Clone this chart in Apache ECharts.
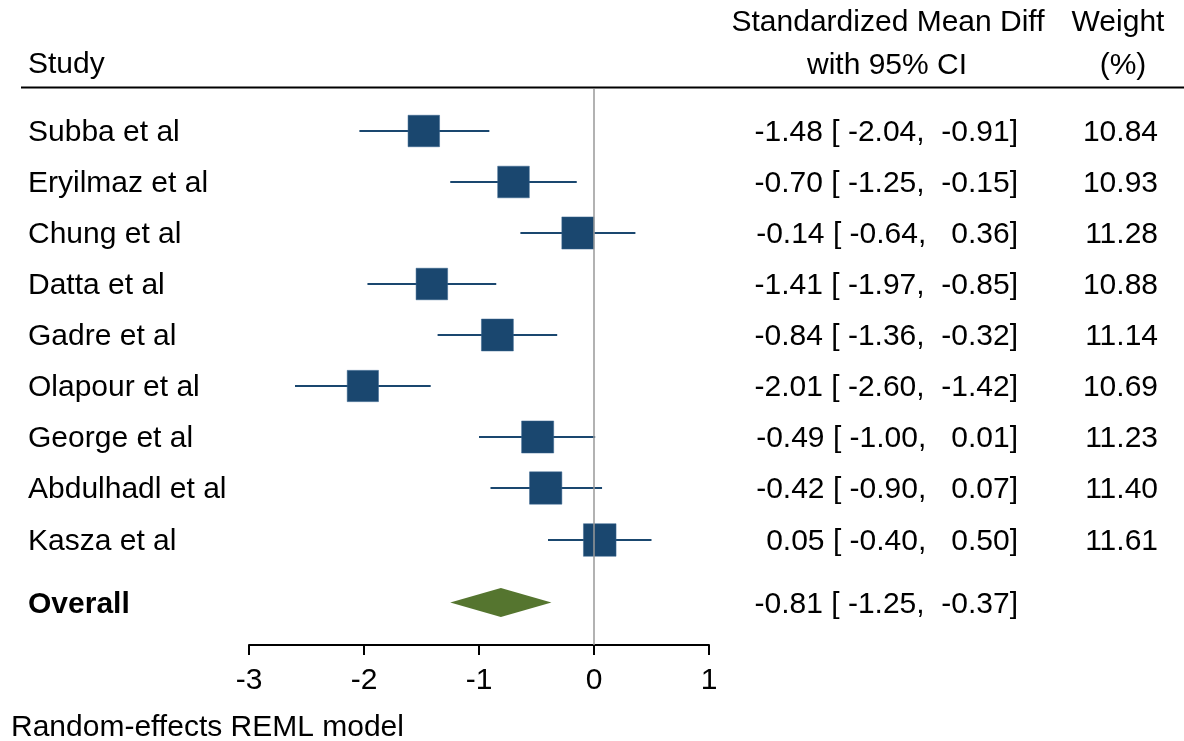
<!DOCTYPE html>
<html>
<head>
<meta charset="utf-8">
<script src="https://cdn.jsdelivr.net/npm/echarts@6/dist/echarts.min.js"></script>
<style>
  html, body { margin: 0; padding: 0; background: #fff; }
  #forest { width: 1184px; height: 741px; }
</style>
</head>
<body>
<div id="forest"></div>
<script>
// ---- data ----
var studies = ['Subba et al', 'Eryilmaz et al', 'Chung et al', 'Datta et al', 'Gadre et al',
    'Olapour et al', 'George et al', 'Abdulhadl et al', 'Kasza et al'];
var smd     = [-1.48, -0.70, -0.14, -1.41, -0.84, -2.01, -0.49, -0.42, 0.05];
var ciLow   = [-2.04, -1.25, -0.64, -1.97, -1.36, -2.60, -1.00, -0.90, -0.40];
var ciHigh  = [-0.91, -0.15, 0.36, -0.85, -0.32, -1.42, 0.01, 0.07, 0.50];
var weights = [10.84, 10.93, 11.28, 10.88, 11.14, 10.69, 11.23, 11.40, 11.61];
var overall = [-0.81, -1.25, -0.37];
var xTicks  = [-3, -2, -1, 0, 1];

var FONT = '"Liberation Sans", Arial, Helvetica, sans-serif';
var NAVY = '#1a476f';
var GREEN = '#55752f';
var FS = 30;

function fmt(v, w) {
    var s = v.toFixed(2);
    while (s.length < w) s = ' ' + s;
    return s;
}
function ciText(e, l, h) {
    return e.toFixed(2) + ' [' + fmt(l, 6) + ', ' + fmt(h, 6) + ']';
}

var rows = studies.map(function (s, i) {
    return [smd[i], ciLow[i], ciHigh[i], weights[i], i + 1];
});
var overallRow = studies.length + 1.23;

function txt(text, x, y, align, bold) {
    return {
        type: 'text',
        style: {
            text: text, x: x, y: y, fill: '#000',
            fontSize: FS, fontFamily: FONT, fontWeight: bold ? 'bold' : 'normal',
            align: align, verticalAlign: 'middle'
        }
    };
}

var dom = document.getElementById('forest');
var myChart = echarts.init(dom);

var option = {
    animation: false,
    backgroundColor: '#fff',
    grid: { left: 249, right: 475, top: 89, bottom: 96 },
    xAxis: {
        type: 'value',
        min: xTicks[0],
        max: xTicks[xTicks.length - 1],
        interval: 1,
        axisLine: { onZero: false, lineStyle: { color: '#000', width: 2 } },
        axisTick: { show: true, length: 10, lineStyle: { color: '#000', width: 2 } },
        axisLabel: { color: '#000', fontSize: FS, fontFamily: FONT, margin: 21 },
        splitLine: { show: false }
    },
    yAxis: {
        type: 'value',
        inverse: true,
        min: 0.184,
        max: 11.064,
        show: false
    },
    graphic: [
        { type: 'line', shape: { x1: 21, y1: 87.5, x2: 1184, y2: 87.5 },
          style: { stroke: '#000', lineWidth: 2 } },
        txt('Study', 28, 65, 'left'),
        txt('Standardized Mean Diff', 888, 23, 'center'),
        txt('with 95% CI', 887, 66, 'center'),
        txt('Weight', 1118, 23, 'center'),
        txt('(%)', 1123, 66, 'center'),
        txt('Random-effects REML model', 11, 728, 'left')
    ],
    series: [
        {
            type: 'custom',
            data: rows,
            encode: { x: [0, 1, 2], y: 4 },
            renderItem: function (params, api) {
                var y = api.value(4);
                var c = api.coord([api.value(0), y]);
                var l = api.coord([api.value(1), y]);
                var h = api.coord([api.value(2), y]);
                var cy = Math.round(c[1]);
                var side = 9.57 * Math.sqrt(api.value(3));
                return {
                    type: 'group',
                    children: [
                        { type: 'line', shape: { x1: l[0], y1: cy, x2: h[0], y2: cy },
                          style: { stroke: NAVY, lineWidth: 2.2 } },
                        { type: 'rect', shape: { x: c[0] - side / 2, y: cy - side / 2, width: side, height: side },
                          style: { fill: NAVY, stroke: '#3a6690', lineWidth: 0.5 } },
                        txt(studies[params.dataIndex], 28, cy + 1.5, 'left'),
                        txt(ciText(api.value(0), api.value(1), api.value(2)), 1018, cy + 1.5, 'right'),
                        txt(api.value(3).toFixed(2), 1158, cy + 1.5, 'right')
                    ]
                };
            },
            markLine: {
                silent: true,
                symbol: 'none',
                label: { show: false },
                lineStyle: { color: '#999', width: 1.5, type: 'solid' },
                data: [{ xAxis: 0 }]
            }
        },
        {
            type: 'custom',
            data: [[overall[0], overall[1], overall[2], overallRow]],
            encode: { x: [0, 1, 2], y: 3 },
            renderItem: function (params, api) {
                var y = api.value(3);
                var c = api.coord([api.value(0), y]);
                var l = api.coord([api.value(1), y]);
                var h = api.coord([api.value(2), y]);
                var hh = 14.5;
                return {
                    type: 'group',
                    children: [
                        { type: 'polygon',
                          shape: { points: [[l[0], c[1]], [c[0], c[1] - hh], [h[0], c[1]], [c[0], c[1] + hh]] },
                          style: { fill: GREEN } },
                        txt('Overall', 28, c[1] + 2, 'left', true),
                        txt(ciText(api.value(0), api.value(1), api.value(2)), 1018, c[1] + 2, 'right')
                    ]
                };
            }
        }
    ]
};

if (option && typeof option === 'object') {
    myChart.setOption(option);
}
</script>
</body>
</html>
